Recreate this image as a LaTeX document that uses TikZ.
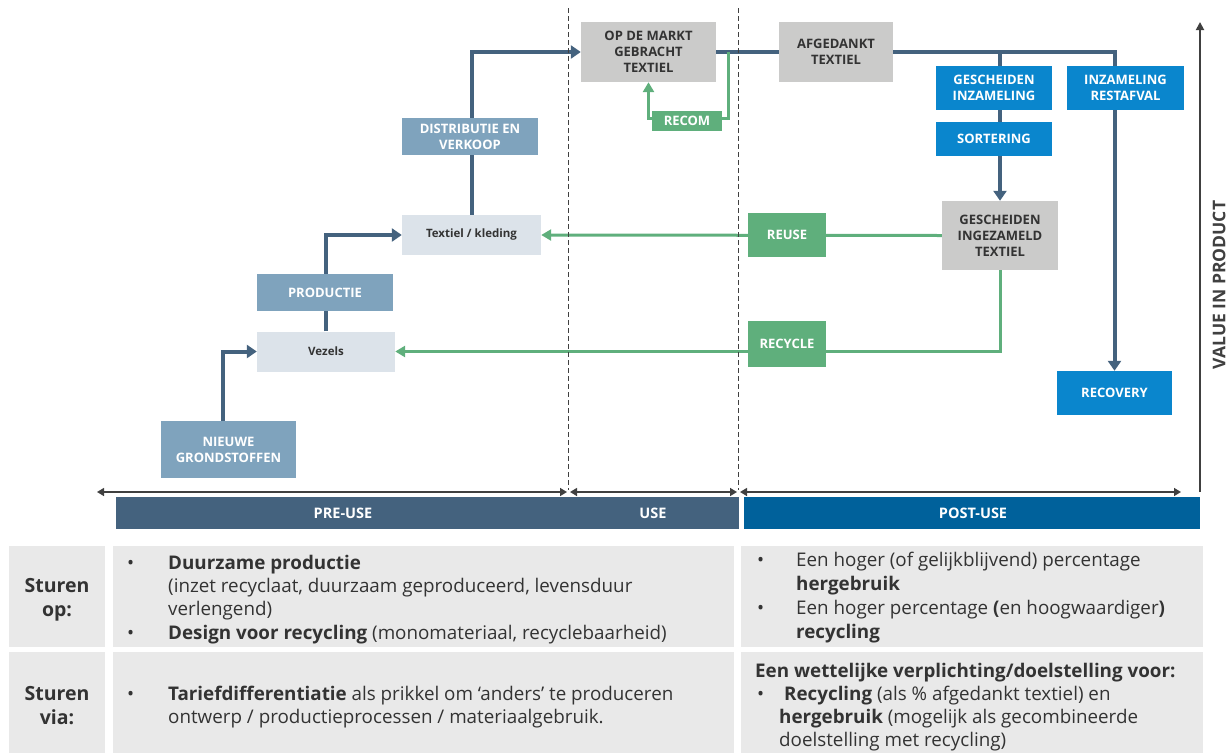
\documentclass[tikz,border=0pt]{standalone}
\usepackage{fontspec}
\setmainfont{Open Sans}
\usetikzlibrary{arrows.meta,backgrounds,calc}
\definecolor{slate}{HTML}{44627E}
\definecolor{steel}{HTML}{7FA3BD}
\definecolor{lightbx}{HTML}{DCE3EA}
\definecolor{graybx}{HTML}{CBCBCA}
\definecolor{bluebx}{HTML}{0A86CD}
\definecolor{postbar}{HTML}{00619B}
\definecolor{greenbx}{HTML}{5FAF7C}
\definecolor{cellbg}{HTML}{E9E9E9}
\definecolor{txt}{HTML}{333333}
\definecolor{axisc}{HTML}{404040}
\begin{document}
\begin{tikzpicture}[x=1pt,y=-1pt,
  bx/.style={inner sep=0pt, align=center, font=\fontsize{13}{16}\selectfont\bfseries},
  sz/.style 2 args={minimum width=#1, minimum height=#2},
  stbox/.style={bx, fill=steel, text=white},
  ltbox/.style={bx, fill=lightbx, text=txt, font=\fontsize{11.5}{14}\selectfont\bfseries},
  gybox/.style={bx, fill=graybx, text=txt},
  bubox/.style={bx, fill=bluebx, text=white},
  grbox/.style={bx, fill=greenbx, text=white},
  barbox/.style={inner sep=0pt},
  bartxt/.style={inner sep=0pt, text=white, font=\fontsize{14.5}{16}\selectfont\bfseries},
  bl/.style={draw=slate, line width=4pt},
  gr/.style={draw=greenbx, line width=3pt},
  btip/.style={-{Triangle[width=13pt,length=10pt]}},
  gtip/.style={-{Triangle[width=11pt,length=10pt]}},
  dashln/.style={draw=axisc, line width=0.9pt, dash pattern=on 5pt off 3pt},
  dbl/.style={draw=axisc, line width=1.5pt, {Triangle[width=8pt,length=7pt]}-{Triangle[width=8pt,length=7pt]}},
  cell/.style={fill=cellbg, inner sep=0pt},
  tl/.style={anchor=base west, inner sep=0pt, text=txt, font=\fontsize{18.8}{23}\selectfont},
  lab/.style={anchor=base, inner sep=0pt, text=txt, font=\fontsize{19.5}{23}\selectfont\bfseries}
]
\useasboundingbox (0,0) rectangle (1231,753);

% ---------- boxes ----------
\node[gybox, sz={135}{60}] (markt) at (648.5,52) {OP DE MARKT\\GEBRACHT\\TEXTIEL};
\node[gybox, sz={114}{60}] (afg) at (836,52) {AFGEDANKT\\TEXTIEL};
\node[bubox, sz={116}{44}] (gin) at (994,88) {GESCHEIDEN\\INZAMELING};
\node[bubox, sz={117}{44}] (rest) at (1125.5,88) {INZAMELING\\RESTAFVAL};
\node[bubox, sz={116}{34}] (sort) at (994,139) {SORTERING};
\node[gybox, sz={116}{69}] (ging) at (1000,235.5) {GESCHEIDEN\\INGEZAMELD\\TEXTIEL};
\node[bubox, sz={115}{44}] (recov) at (1114.5,393) {RECOVERY};
\node[grbox, sz={78}{44}] (reuse) at (787,235) {REUSE};
\node[grbox, sz={78}{46}] (recycle) at (787,344) {RECYCLE};
\node[grbox, sz={70}{20}] (recom) at (687,121) {RECOM};
\node[stbox, sz={136}{37}] (distr) at (470,136.5) {DISTRIBUTIE EN\\VERKOOP};
\node[ltbox, sz={139}{40}] (textiel) at (471.5,235) {Textiel / kleding};
\node[stbox, sz={136}{37}] (prod) at (325,292.5) {PRODUCTIE};
\node[ltbox, sz={138}{40}] (vezels) at (326,351.5) {Vezels};
\node[stbox, sz={135}{57}] (nieuw) at (228.5,449.5) {NIEUWE\\GRONDSTOFFEN};

% ---------- coordinates ----------
\coordinate (gsplit) at (728,52);
\coordinate (d1t) at (568.5,8);
\coordinate (d1b) at (568.5,490);
\coordinate (d2t) at (738.5,8);
\coordinate (d2b) at (738.5,490);
\coordinate (a0) at (97,492);
\coordinate (a1) at (567,492);
\coordinate (a2) at (570,492);
\coordinate (a3) at (737,492);
\coordinate (a4) at (740,492);
\coordinate (a5) at (1181,492);
\coordinate (v0) at (1200,492);
\coordinate (v1) at (1200,22);

% ---------- connectors ----------
\begin{pgfonlayer}{background}
\draw[bl, btip] ([xshift=-5.5pt]nieuw.north) |- (vezels.west);
\draw[bl] (vezels.north) -- (vezels.north |- prod.south);
\draw[bl, btip] ([xshift=1pt]prod.north) |- (textiel.west);
\draw[bl] (textiel.north) -- (textiel.north |- distr.south);
\draw[bl, btip] (textiel.north |- distr.north) |- (markt.west);
\draw[bl] (markt.east) -- (afg.west);
\draw[bl, btip] (afg.east) -| (recov.north);
\draw[bl, btip] (ging.north |- afg.east) -- (ging.north);
\draw[gr] (gsplit) |- ([yshift=3pt]recom.east);
\draw[gr, gtip] ([yshift=3pt]recom.west) -| (markt.south);
\draw[gr, gtip] (ging.west) -- (textiel.east);
\draw[gr, gtip] (ging.south) |- (vezels.east);
\end{pgfonlayer}

% ---------- phase axis ----------
\draw[dashln] (d1t) -- (d1b);
\draw[dashln] (d2t) -- (d2b);
\draw[dbl] (a0) -- (a1);
\draw[dbl] (a2) -- (a3);
\draw[dbl] (a4) -- (a5);
\draw[draw=axisc, line width=1.8pt, -{Triangle[width=8pt,length=8pt]}] (v0) -- (v1);
\node[inner sep=0pt, rotate=90, text=axisc, font=\fontsize{17.5}{20}\selectfont\bfseries] (vlab) at (1219,285) {VALUE IN PRODUCT};

\node[barbox, fill=slate, sz={623}{32}] (barpre) at (427.5,513) {};
\node[barbox, fill=postbar, sz={456}{32}] (barpost) at (972,513) {};
\node[bartxt] (tpre) at (343,513) {PRE-USE};
\node[bartxt] (tuse) at (653,513) {USE};
\node[bartxt] (tpost) at (973,513) {POST-USE};

% ---------- table ----------
\node[cell, sz={96}{101}] (c11) at (57,596.5) {};
\node[cell, sz={621}{101}] (c12) at (423.5,596.5) {};
\node[cell, sz={462}{101}] (c13) at (972,596.5) {};
\node[cell, sz={96}{101}] (c21) at (57,702.5) {};
\node[cell, sz={621}{101}] (c22) at (423.5,702.5) {};
\node[cell, sz={462}{101}] (c23) at (972,702.5) {};

\node[lab] (s1a) at (57,592) {Sturen};
\node[lab] (s1b) at (57,616) {op:};
\node[lab] (s2a) at (57,700) {Sturen};
\node[lab] (s2b) at (57,724) {via:};

\node[tl] (b11) at (127,569) {•};
\node[tl] (t11) at (168,569) {\textbf{Duurzame productie}};
\node[tl] (t12) at (168,592) {(inzet recyclaat, duurzaam geproduceerd, levensduur};
\node[tl] (t13) at (168,615) {verlengend)};
\node[tl] (b12) at (127,639) {•};
\node[tl] (t14) at (168,639) {\textbf{Design voor recycling} (monomateriaal, recyclebaarheid)};

\node[tl] (b21) at (127,700) {•};
\node[tl] (t21) at (168,700) {\textbf{Tariefdifferentiatie} als prikkel om ‘anders’ te produceren};
\node[tl] (t22) at (168,723) {ontwerp / productieprocessen / materiaalgebruik.};

\node[tl] (b31) at (757,566) {•};
\node[tl] (t31) at (796,566) {Een hoger (of gelijkblijvend) percentage};
\node[tl] (t32) at (796,590) {\textbf{hergebruik}};
\node[tl] (b32) at (757,614) {•};
\node[tl] (t33) at (796,614) {Een hoger percentage \textbf{(}en hoogwaardiger\textbf{)}};
\node[tl] (t34) at (796,638) {\textbf{recycling}};

\node[tl] (t41) at (755,677) {\textbf{Een wettelijke verplichting/doelstelling voor:}};
\node[tl] (b41) at (757,700) {•};
\node[tl] (t42) at (784,700) {\textbf{Recycling} (als \% afgedankt textiel) en};
\node[tl] (t43) at (779,723) {\textbf{hergebruik} (mogelijk als gecombineerde};
\node[tl] (t44) at (779,746) {doelstelling met recycling)};
\end{tikzpicture}
\end{document}
